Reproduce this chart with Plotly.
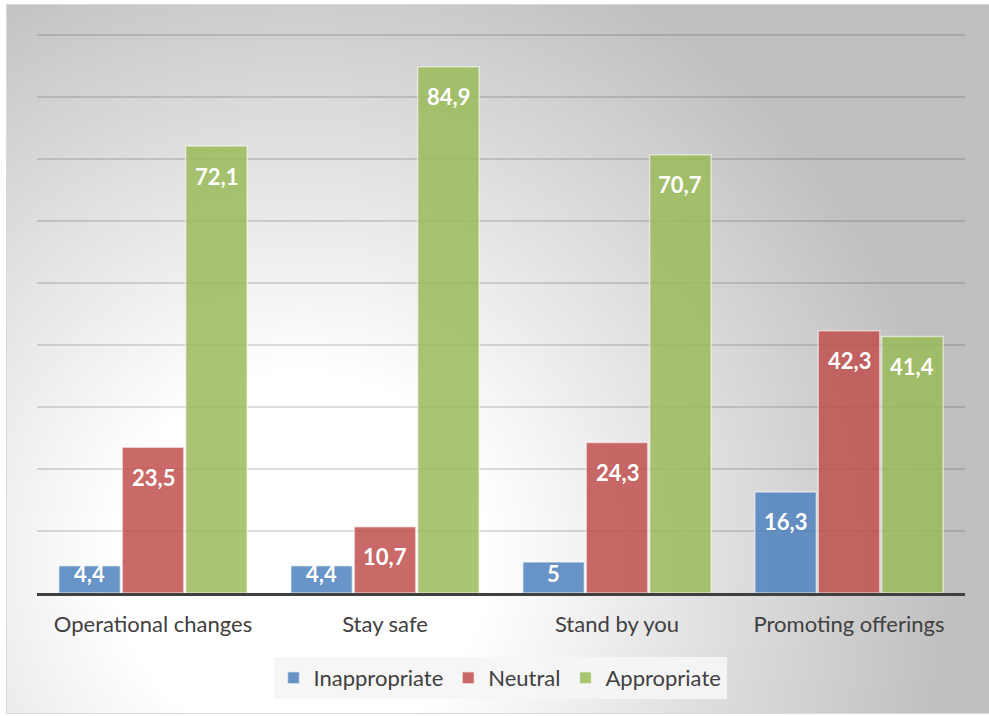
import base64, struct, zlib
import numpy as np
import plotly.graph_objects as go

categories = ["Operational changes", "Stay safe", "Stand by you", "Promoting offerings"]
series_names = ["Inappropriate", "Neutral", "Appropriate"]
inappropriate = [4.4, 4.4, 5.0, 16.3]
neutral = [23.5, 10.7, 24.3, 42.3]
appropriate = [72.1, 84.9, 70.7, 41.4]
label_text = [["4,4", "4,4", "5", "16,3"],
              ["23,5", "10,7", "24,3", "42,3"],
              ["72,1", "84,9", "70,7", "41,4"]]
values = [inappropriate, neutral, appropriate]
colors = ["rgba(79,129,189,0.85)", "rgba(192,80,77,0.85)", "rgba(155,187,89,0.85)"]
grid_ticks = [10, 20, 30, 40, 50, 60, 70, 80, 90]

W, H = 989, 716
ML, MR, MT, MB = 37, 24, 33, 123
YMAX = 90.35
BARGAP, GROUPGAP = 0.18, 0.03
plot_w = W - ML - MR
plot_h = H - MT - MB
px_per_unit = plot_h / YMAX
slot_px = plot_w / len(categories) * (1 - BARGAP) / len(series_names)

# ---- background radial gradient (decoration) ----
bx0, by0, bx1, by1 = 6, 4, 989, 714
bw, bh = bx1 - bx0, by1 - by0
yy, xx = np.mgrid[0:bh, 0:bw]
cx, cy = 300 - bx0, 560 - by0
d = np.sqrt((xx - cx) ** 2 + (yy - cy) ** 2)
t = np.clip((d - 190) / (660 - 190), 0, 1)
img = (255 - 64 * t).astype(np.uint8)

def png_gray(arr):
    h, w = arr.shape
    raw = b"".join(b"\x00" + arr[i].tobytes() for i in range(h))
    def chunk(tag, data):
        return struct.pack(">I", len(data)) + tag + data + struct.pack(">I", zlib.crc32(tag + data) & 0xffffffff)
    return (b"\x89PNG\r\n\x1a\n" + chunk(b"IHDR", struct.pack(">IIBBBBB", w, h, 8, 0, 0, 0, 0))
            + chunk(b"IDAT", zlib.compress(raw, 9)) + chunk(b"IEND", b""))

src = "data:image/png;base64," + base64.b64encode(png_gray(img)).decode()

def px2paper_x(px):
    return (px - ML) / plot_w

def px2paper_y(py):
    return (H - MB - py) / plot_h

fig = go.Figure()
for name, vals, col in zip(series_names, values, colors):
    fig.add_trace(go.Bar(
        name=name, x=categories, y=vals,
        marker=dict(color=col, line=dict(color="rgba(255,255,255,0.55)", width=1.5)),
        hoverinfo="x+y+name",
    ))

annotations = []
for si, (vals, texts) in enumerate(zip(values, label_text)):
    for cat, v, txt in zip(categories, vals, texts):
        bar_px = v * px_per_unit
        shift = -min(14.5, bar_px - 35)
        annotations.append(dict(
            x=cat, y=v, xref="x", yref="y", text=txt, showarrow=False,
            xshift=(si - 1) * slot_px, yshift=shift, yanchor="top",
            font=dict(family="Lato", size=22, color="white", weight="bold"),
        ))

fig.update_layout(
    width=W, height=H,
    margin=dict(l=ML, r=MR, t=MT, b=MB, pad=0),
    paper_bgcolor="white",
    plot_bgcolor="rgba(0,0,0,0)",
    barmode="group", bargap=BARGAP, bargroupgap=GROUPGAP,
    font=dict(family="Lato", size=22, color="#404040"),
    showlegend=True,
    legend=dict(orientation="h", x=px2paper_x(500), xanchor="center",
                y=px2paper_y(678), yanchor="middle",
                bgcolor="rgba(245,245,245,0.92)", borderwidth=0,
                font=dict(family="Lato", size=22, color="#404040"),
                itemwidth=30, traceorder="normal"),
    annotations=annotations,
    images=[dict(source=src, xref="paper", yref="paper",
                 x=px2paper_x(bx0), y=px2paper_y(by0),
                 sizex=bw / plot_w, sizey=bh / plot_h,
                 xanchor="left", yanchor="top", sizing="stretch", layer="below")],
    shapes=[dict(type="rect", xref="paper", yref="paper",
                 x0=px2paper_x(bx0 + 0.5), x1=px2paper_x(bx1 + 5),
                 y0=px2paper_y(by1 - 0.5), y1=px2paper_y(by0 + 0.5),
                 line=dict(color="#d9d9d9", width=1), layer="below")],
    hovermode="closest",
)
fig.update_xaxes(showline=True, linecolor="#404040", linewidth=3, showgrid=False,
                 ticks="outside", ticklen=10, tickcolor="rgba(0,0,0,0)",
                 tickfont=dict(family="Lato", size=22, color="#404040"), fixedrange=True)
fig.update_yaxes(range=[0, YMAX], tickmode="array", tickvals=grid_ticks, showgrid=True,
                 gridcolor="rgba(0,0,0,0.13)", gridwidth=1.5, zeroline=False,
                 showticklabels=False, ticks="", fixedrange=True)

fig.write_html("out.html")
